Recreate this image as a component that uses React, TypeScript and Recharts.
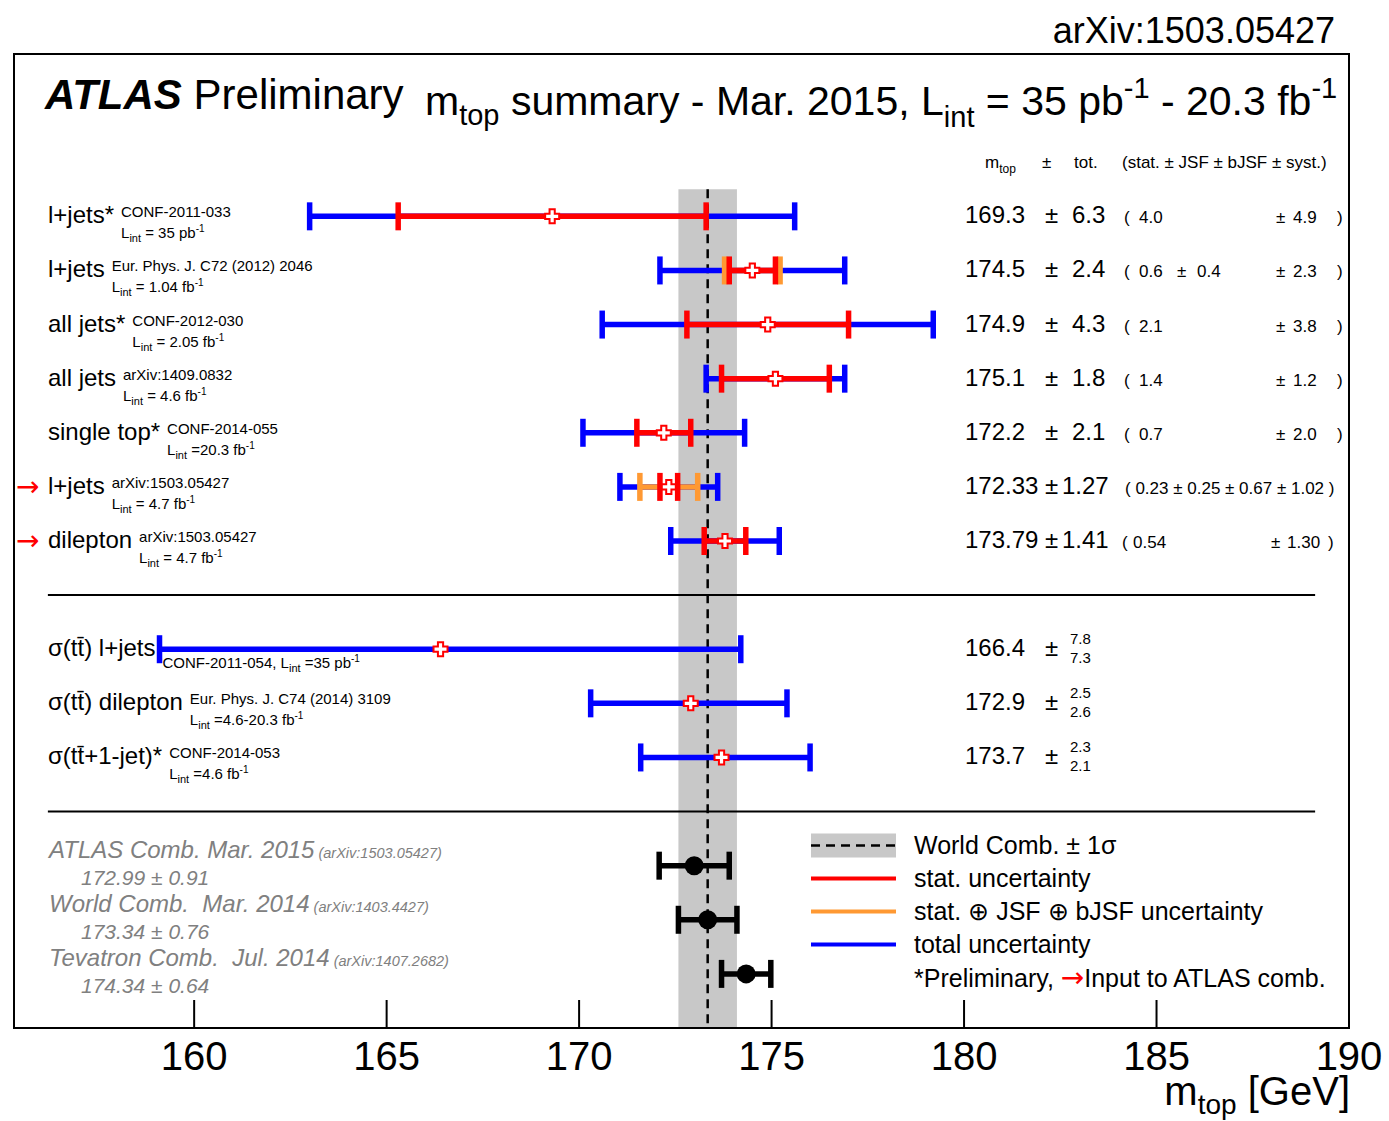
import React from 'react';
import {
  ErrorBar,
  Legend,
  ReferenceArea,
  ReferenceLine,
  Scatter,
  ScatterChart,
  XAxis,
  YAxis
} from 'recharts';

const FONT = '"Liberation Sans", Arial, Helvetica, sans-serif';
const ARROW_FONT = '"DejaVu Sans", sans-serif';
const BLUE = '#0000ff';
const RED = '#ff0000';
const ORANGE = '#ff9933';
const BAND = '#c8c8c8';
const GREY_TEXT = '#808080';

// individual measurements, top to bottom (row index on the y scale)
const measRows = [0, 1, 2, 3, 4, 5, 6, 8, 9, 10];
const channels = ['l+jets*', 'l+jets', 'all jets*', 'all jets', 'single top*', 'l+jets', 'dilepton', 'σ(tt\u0304) l+jets', 'σ(tt\u0304) dilepton', 'σ(tt\u0304+1-jet)*'];
const references = ['CONF-2011-033', 'Eur. Phys. J. C72 (2012) 2046', 'CONF-2012-030', 'arXiv:1409.0832', 'CONF-2014-055', 'arXiv:1503.05427', 'arXiv:1503.05427', '', 'Eur. Phys. J. C74 (2014) 3109', 'CONF-2014-053'];
const lumiPrefix = ['', '', '', '', '', '', '', 'CONF-2011-054, ', '', ''];
const lumis = ['= 35 pb', '= 1.04 fb', '= 2.05 fb', '= 4.6 fb', '=20.3 fb', '= 4.7 fb', '= 4.7 fb', '=35 pb', '=4.6-20.3 fb', '=4.6 fb'];
const combInput = [false, false, false, false, false, true, true, false, false, false];
const mtop = [169.3, 174.5, 174.9, 175.1, 172.2, 172.33, 173.79, 166.4, 172.9, 173.7];
const totUp = [6.3, 2.4, 4.3, 1.8, 2.1, 1.27, 1.41, 7.8, 2.5, 2.3];
const totDown = [6.3, 2.4, 4.3, 1.8, 2.1, 1.27, 1.41, 7.3, 2.6, 2.1];
const statErr = [4.0, 0.6, 2.1, 1.4, 0.7, 0.23, 0.54, null, null, null];
const jsfErr = [null, 0.4, null, null, null, 0.25, null, null, null, null];
const bjsfErr = [null, null, null, null, null, 0.67, null, null, null, null];
const systErr = [4.9, 2.3, 3.8, 1.2, 2.0, 1.02, 1.3, null, null, null];
const digits = [1, 1, 1, 1, 1, 2, 2, 1, 1, 1];

// combinations at the bottom
const combRows = [12, 13, 14];
const combNames = ['ATLAS Comb. Mar. 2015', 'World Comb.  Mar. 2014', 'Tevatron Comb.  Jul. 2014'];
const combRefs = ['(arXiv:1503.05427)', '(arXiv:1403.4427)', '(arXiv:1407.2682)'];
const combMass = [172.99, 173.34, 174.34];
const combErr = [0.91, 0.76, 0.64];
const WORLD = 1;

const xTicks = [160, 165, 170, 175, 180, 185, 190];
const X_MIN = 155.32;
const X_MAX = 190;

const totalData = measRows.map((row, i) => ({ row, m: mtop[i], err: [totDown[i], totUp[i]] }));
const quadData = measRows
  .map((row, i) => ({ row, m: mtop[i], err: Math.hypot(statErr[i] ?? 0, jsfErr[i] ?? 0, bjsfErr[i] ?? 0), has: jsfErr[i] != null }))
  .filter((d) => d.has);
const statData = measRows
  .map((row, i) => ({ row, m: mtop[i], err: statErr[i] }))
  .filter((d) => d.err != null);
const combData = combRows.map((row, i) => ({ row, m: combMass[i], err: combErr[i] }));
// one entry per text row; the shape only uses the row's y position
const labelData = [
  ...measRows.map((row, i) => ({ row, m: mtop[i], meas: i, comb: -1 })),
  ...combRows.map((row, c) => ({ row, m: combMass[c], meas: -1, comb: c }))
];

let measureCtx: CanvasRenderingContext2D | null = null;
function textWidth(s: string, size: number) {
  if (!measureCtx) measureCtx = document.createElement('canvas').getContext('2d');
  if (!measureCtx) return s.length * size * 0.5;
  measureCtx.font = `${size}px "Liberation Sans"`;
  return measureCtx.measureText(s).width;
}

const pre = { whiteSpace: 'pre' as const };

function Lumi({ x, y, i }: { x: number; y: number; i: number }) {
  return (
    <text x={x} y={y} fontSize={15} style={pre}>
      {lumiPrefix[i]}L<tspan dy={4} fontSize={11}>int</tspan>
      <tspan dy={-4}>{' ' + lumis[i]}</tspan>
      <tspan dy={-6} fontSize={10}>-1</tspan>
    </text>
  );
}

function Breakdown({ i, y }: { i: number; y: number }) {
  const d = digits[i];
  const stat = statErr[i];
  const syst = systErr[i];
  if (stat == null || syst == null) return null;
  const by = y + 7;
  if (bjsfErr[i] != null) {
    const s = `( ${stat.toFixed(d)} ± ${jsfErr[i]!.toFixed(d)} ± ${bjsfErr[i]!.toFixed(d)} ± ${syst.toFixed(d)} )`;
    return <text x={1125} y={by} fontSize={17} style={pre}>{s}</text>;
  }
  const wide = d === 2;
  return (
    <g fontSize={17}>
      <text x={wide ? 1122 : 1124} y={by}>(</text>
      <text x={wide ? 1133 : 1139} y={by}>{stat.toFixed(d)}</text>
      {jsfErr[i] != null && (
        <>
          <text x={1177} y={by}>±</text>
          <text x={1197} y={by}>{jsfErr[i]!.toFixed(d)}</text>
        </>
      )}
      <text x={wide ? 1271 : 1276} y={by}>±</text>
      <text x={wide ? 1287 : 1293} y={by}>{syst.toFixed(d)}</text>
      <text x={wide ? 1328 : 1337} y={by}>)</text>
    </g>
  );
}

function MeasurementText({ i, y }: { i: number; y: number }) {
  const refX = 48 + textWidth(channels[i], 24) + 7;
  const d = digits[i];
  const sym = totUp[i] === totDown[i];
  return (
    <g fontFamily={FONT} fill="#000">
      {combInput[i] && (
        <text x={16} y={y + 9} fontSize={28} fontFamily={ARROW_FONT} fill={RED}>→</text>
      )}
      <text x={48} y={y + 7} fontSize={24} style={pre}>{channels[i]}</text>
      {references[i] && (
        <text x={refX} y={y + 1} fontSize={15} style={pre}>{references[i]}</text>
      )}
      <Lumi x={refX} y={y + (references[i] ? 22 : 19)} i={i} />
      <text x={965} y={y + 7} fontSize={24}>{mtop[i].toFixed(d)}</text>
      <text x={1045} y={y + 7} fontSize={24}>±</text>
      {sym ? (
        <text x={d === 2 ? 1062 : 1072} y={y + 7} fontSize={24}>{totUp[i].toFixed(d)}</text>
      ) : (
        <>
          <text x={1070} y={y - 5} fontSize={15}>{totUp[i].toFixed(d)}</text>
          <text x={1070} y={y + 14} fontSize={15}>{totDown[i].toFixed(d)}</text>
        </>
      )}
      <Breakdown i={i} y={y} />
    </g>
  );
}

function CombText({ c, y }: { c: number; y: number }) {
  return (
    <g fontFamily={FONT} fill={GREY_TEXT} fontStyle="italic">
      <text x={49} y={y - 8} fontSize={24} style={pre}>
        {combNames[c]}
        <tspan fontSize={14.5}>{' ' + combRefs[c]}</tspan>
      </text>
      <text x={81} y={y + 19} fontSize={21} style={pre}>
        {`${combMass[c].toFixed(2)} ± ${combErr[c].toFixed(2)}`}
      </text>
    </g>
  );
}

function RowLabel(props: any) {
  const { cy, payload } = props;
  if (payload.meas >= 0) return <MeasurementText i={payload.meas} y={cy} />;
  if (payload.comb >= 0) return <CombText c={payload.comb} y={cy} />;
  return <g />;
}

function MassTick(props: any) {
  const { x, y, payload } = props;
  return (
    <g>
      <line x1={x} x2={x} y1={y - 28} y2={y} stroke="#000" strokeWidth={2} />
      <text x={x} y={y + 42} textAnchor="middle" fontSize={40} fontFamily={FONT} fill="#000">
        {payload.value}
      </text>
    </g>
  );
}

function AxisTitle(props: any) {
  const vb = props.viewBox ?? { x: 14, y: 1028, width: 1335 };
  return (
    <text x={vb.x + vb.width + 1} y={vb.y + 77} textAnchor="end" fontSize={40} fontFamily={FONT} fill="#000">
      m<tspan dy={9} fontSize={28}>top</tspan>
      <tspan dy={-9}> [GeV]</tspan>
    </text>
  );
}

function OpenCross(props: any) {
  const { cx, cy } = props;
  const a = 7;
  const b = 2.6;
  const d = `M${cx - b},${cy - a}h${2 * b}v${a - b}h${a - b}v${2 * b}h${b - a}v${a - b}h${-2 * b}v${b - a}h${b - a}v${-2 * b}h${a - b}Z`;
  return <path d={d} fill="#fff" stroke={RED} strokeWidth={2} />;
}

function Dot(props: any) {
  return <circle cx={props.cx} cy={props.cy} r={9.5} fill="#000" />;
}

const Nothing = () => <g />;

function LegendBox() {
  const item = (swatch: React.ReactNode, label: React.ReactNode, key: string) => (
    <div key={key} style={{ display: 'flex', alignItems: 'center', height: 33 }}>
      <svg width={85} height={33} style={{ marginRight: 18, flex: 'none' }}>{swatch}</svg>
      <span style={{ whiteSpace: 'pre' }}>{label}</span>
    </div>
  );
  const line = (color: string) => <line x1={0} x2={85} y1={16.5} y2={16.5} stroke={color} strokeWidth={4} />;
  return (
    <div style={{ fontFamily: FONT, fontSize: 25, color: '#000', lineHeight: '33px' }}>
      {item(
        <>
          <rect x={0} y={4.5} width={85} height={24} fill={BAND} />
          <line x1={0} x2={85} y1={16.5} y2={16.5} stroke="#000" strokeWidth={2.5} strokeDasharray="9 6" />
        </>,
        'World Comb. ± 1σ',
        'band'
      )}
      {item(line(RED), 'stat. uncertainty', 'stat')}
      {item(line(ORANGE), 'stat. ⊕ JSF ⊕ bJSF uncertainty', 'jsf')}
      {item(line(BLUE), 'total uncertainty', 'tot')}
      {item(
        null,
        <>
          *Preliminary, <span style={{ color: RED, fontFamily: ARROW_FONT, fontSize: 28 }}>→</span>Input to ATLAS comb.
        </>,
        'note'
      )}
    </div>
  );
}

export default function App() {
  return (
    <div style={{ position: 'absolute', left: 0, top: 0, width: 1389, height: 1121, background: '#fff', overflow: 'hidden' }}>
      <ScatterChart width={1389} height={1121} margin={{ top: 54, right: 40, bottom: 0, left: 14 }}>
        <XAxis
          type="number"
          dataKey="m"
          domain={[X_MIN, X_MAX]}
          ticks={xTicks}
          interval={0}
          allowDataOverflow
          height={93}
          tickSize={0}
          tickMargin={0}
          tickLine={false}
          axisLine={false}
          tick={(p: any) => <MassTick {...p} />}
          label={<AxisTitle />}
        />
        <YAxis
          type="number"
          dataKey="row"
          domain={[-3, 15]}
          reversed
          allowDataOverflow
          width={0}
          tick={false}
          tickLine={false}
          axisLine={false}
        />
        <ReferenceArea
          x1={combMass[WORLD] - combErr[WORLD]}
          x2={combMass[WORLD] + combErr[WORLD]}
          y1={-0.5}
          y2={15}
          fill={BAND}
          fillOpacity={1}
          stroke="none"
          ifOverflow="visible"
        />
        <ReferenceLine
          segment={[{ x: combMass[WORLD], y: -0.5 }, { x: combMass[WORLD], y: 15 }]}
          stroke="#000"
          strokeWidth={2.5}
          strokeDasharray="9 6"
          ifOverflow="visible"
        />
        <ReferenceLine segment={[{ x: 156.2, y: 7 }, { x: 189.12, y: 7 }]} stroke="#000" strokeWidth={2} />
        <ReferenceLine segment={[{ x: 156.2, y: 11 }, { x: 189.12, y: 11 }]} stroke="#000" strokeWidth={2} />

        <Scatter data={labelData} shape={RowLabel} isAnimationActive={false} />
        <Scatter data={totalData} shape={Nothing} isAnimationActive={false}>
          <ErrorBar dataKey="err" direction="x" width={14} stroke={BLUE} strokeWidth={5.5} isAnimationActive={false} />
        </Scatter>
        <Scatter data={quadData} shape={Nothing} isAnimationActive={false}>
          <ErrorBar dataKey="err" direction="x" width={14} stroke={ORANGE} strokeWidth={5.5} isAnimationActive={false} />
        </Scatter>
        <Scatter data={statData} shape={Nothing} isAnimationActive={false}>
          <ErrorBar dataKey="err" direction="x" width={14} stroke={RED} strokeWidth={5.5} isAnimationActive={false} />
        </Scatter>
        <Scatter data={totalData} shape={OpenCross} isAnimationActive={false} />
        <Scatter data={combData} shape={Dot} isAnimationActive={false}>
          <ErrorBar dataKey="err" direction="x" width={14} stroke="#000" strokeWidth={5.5} isAnimationActive={false} />
        </Scatter>

        <ReferenceArea
          x1={X_MIN}
          x2={X_MAX}
          y1={-3}
          y2={15}
          fill="none"
          stroke="#000"
          strokeWidth={2}
          ifOverflow="visible"
        />
        <Legend
          layout="vertical"
          align="center"
          verticalAlign="middle"
          content={() => <LegendBox />}
          wrapperStyle={{ left: 811, top: 829, width: 570 }}
        />
      </ScatterChart>

      <svg
        width={1389}
        height={1121}
        style={{ position: 'absolute', left: 0, top: 0, pointerEvents: 'none' }}
        fontFamily={FONT}
        fill="#000"
      >
        <text x={1335} y={43} fontSize={36} textAnchor="end">arXiv:1503.05427</text>
        <text x={45} y={109} fontSize={42} style={pre}>
          <tspan fontWeight="bold" fontStyle="italic">ATLAS</tspan>
          <tspan> Preliminary</tspan>
        </text>
        <text x={425} y={115} fontSize={41} style={pre}>
          m<tspan dy={10} fontSize={29}>top</tspan>
          <tspan dy={-10}> summary - Mar. 2015, L</tspan>
          <tspan dy={12} fontSize={29}>int</tspan>
          <tspan dy={-12}> = 35 pb</tspan>
          <tspan dy={-17} fontSize={29}>-1</tspan>
          <tspan dy={17}> - 20.3 fb</tspan>
          <tspan dy={-17} fontSize={29}>-1</tspan>
        </text>
        <g fontSize={17} style={pre}>
          <text x={985} y={168}>
            m<tspan dy={5} fontSize={12}>top</tspan>
          </text>
          <text x={1042} y={168}>±</text>
          <text x={1074} y={168}>tot.</text>
          <text x={1122} y={168}>(stat. ± JSF ± bJSF ± syst.)</text>
        </g>
      </svg>
    </div>
  );
}
